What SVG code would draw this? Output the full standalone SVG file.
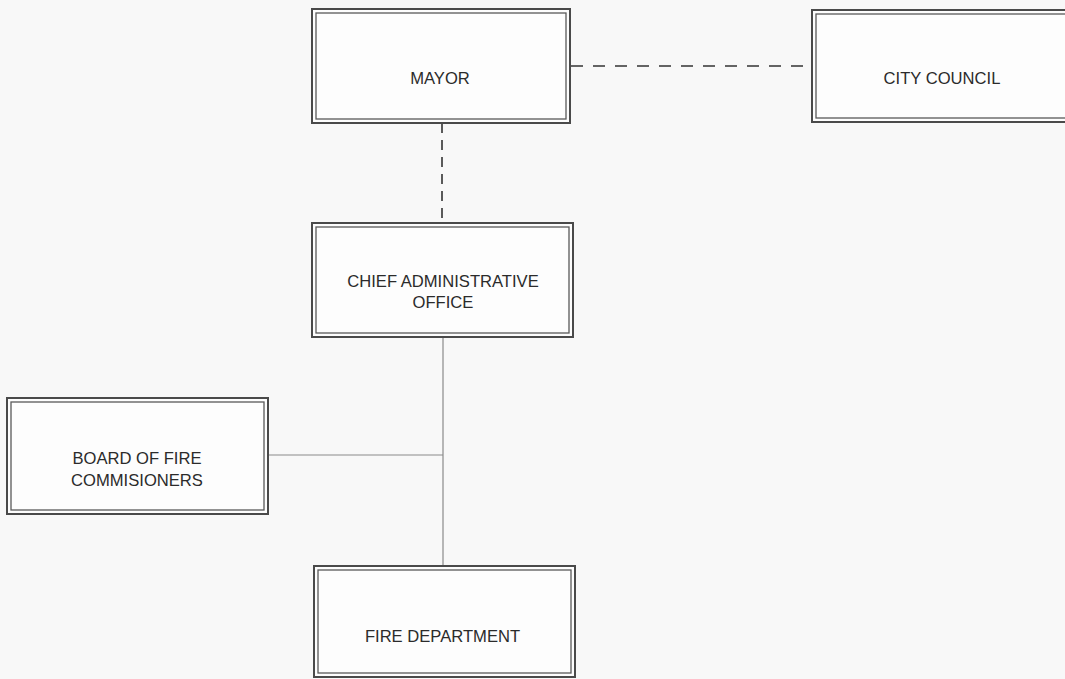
<svg xmlns="http://www.w3.org/2000/svg" width="1065" height="679" viewBox="0 0 1065 679">
<style>
.outer{fill:#fdfdfd;stroke:#4a4a4a;stroke-width:2}
.inner{fill:none;stroke:#5a5a5a;stroke-width:1.3}
.lbl{font-family:"Liberation Sans",Arial,sans-serif;font-size:16.6px;fill:#2b2b2b;text-anchor:middle}
.dash{stroke:#333;stroke-width:1.6;fill:none}
.solid{stroke:#8a8a8a;stroke-width:1.2;fill:none}
</style>
<rect x="0" y="0" width="1065" height="679" fill="#f8f8f8"/>
<g id="connectors">
<line class="dash" x1="571" y1="66" x2="812" y2="66" stroke-dasharray="12,10"/>
<line class="dash" x1="442" y1="123" x2="442" y2="223" stroke-dasharray="10,7"/>
<line class="solid" x1="443" y1="337" x2="443" y2="566"/>
<line class="solid" x1="268" y1="455" x2="443" y2="455"/>
</g>
<g id="mayor">
<rect class="outer" x="312" y="9" width="258" height="114"/>
<rect class="inner" x="316" y="13" width="250" height="106"/>
<text class="lbl" x="440" y="84">MAYOR</text>
</g>
<g id="city-council">
<rect class="outer" x="812" y="10" width="270" height="112"/>
<rect class="inner" x="816" y="14" width="262" height="104"/>
<text class="lbl" x="942" y="84">CITY COUNCIL</text>
</g>
<g id="cao">
<rect class="outer" x="312" y="223" width="261" height="114"/>
<rect class="inner" x="316" y="227" width="253" height="106"/>
<text class="lbl" x="443" y="287">CHIEF ADMINISTRATIVE</text>
<text class="lbl" x="443" y="307.5">OFFICE</text>
</g>
<g id="board">
<rect class="outer" x="7" y="398" width="261" height="116"/>
<rect class="inner" x="11" y="402" width="253" height="108"/>
<text class="lbl" x="137" y="464">BOARD OF FIRE</text>
<text class="lbl" x="137" y="485.5">COMMISIONERS</text>
</g>
<g id="fire-department">
<rect class="outer" x="314" y="566" width="261" height="111"/>
<rect class="inner" x="318" y="570" width="253" height="103"/>
<text class="lbl" x="442.5" y="642">FIRE DEPARTMENT</text>
</g>
</svg>
